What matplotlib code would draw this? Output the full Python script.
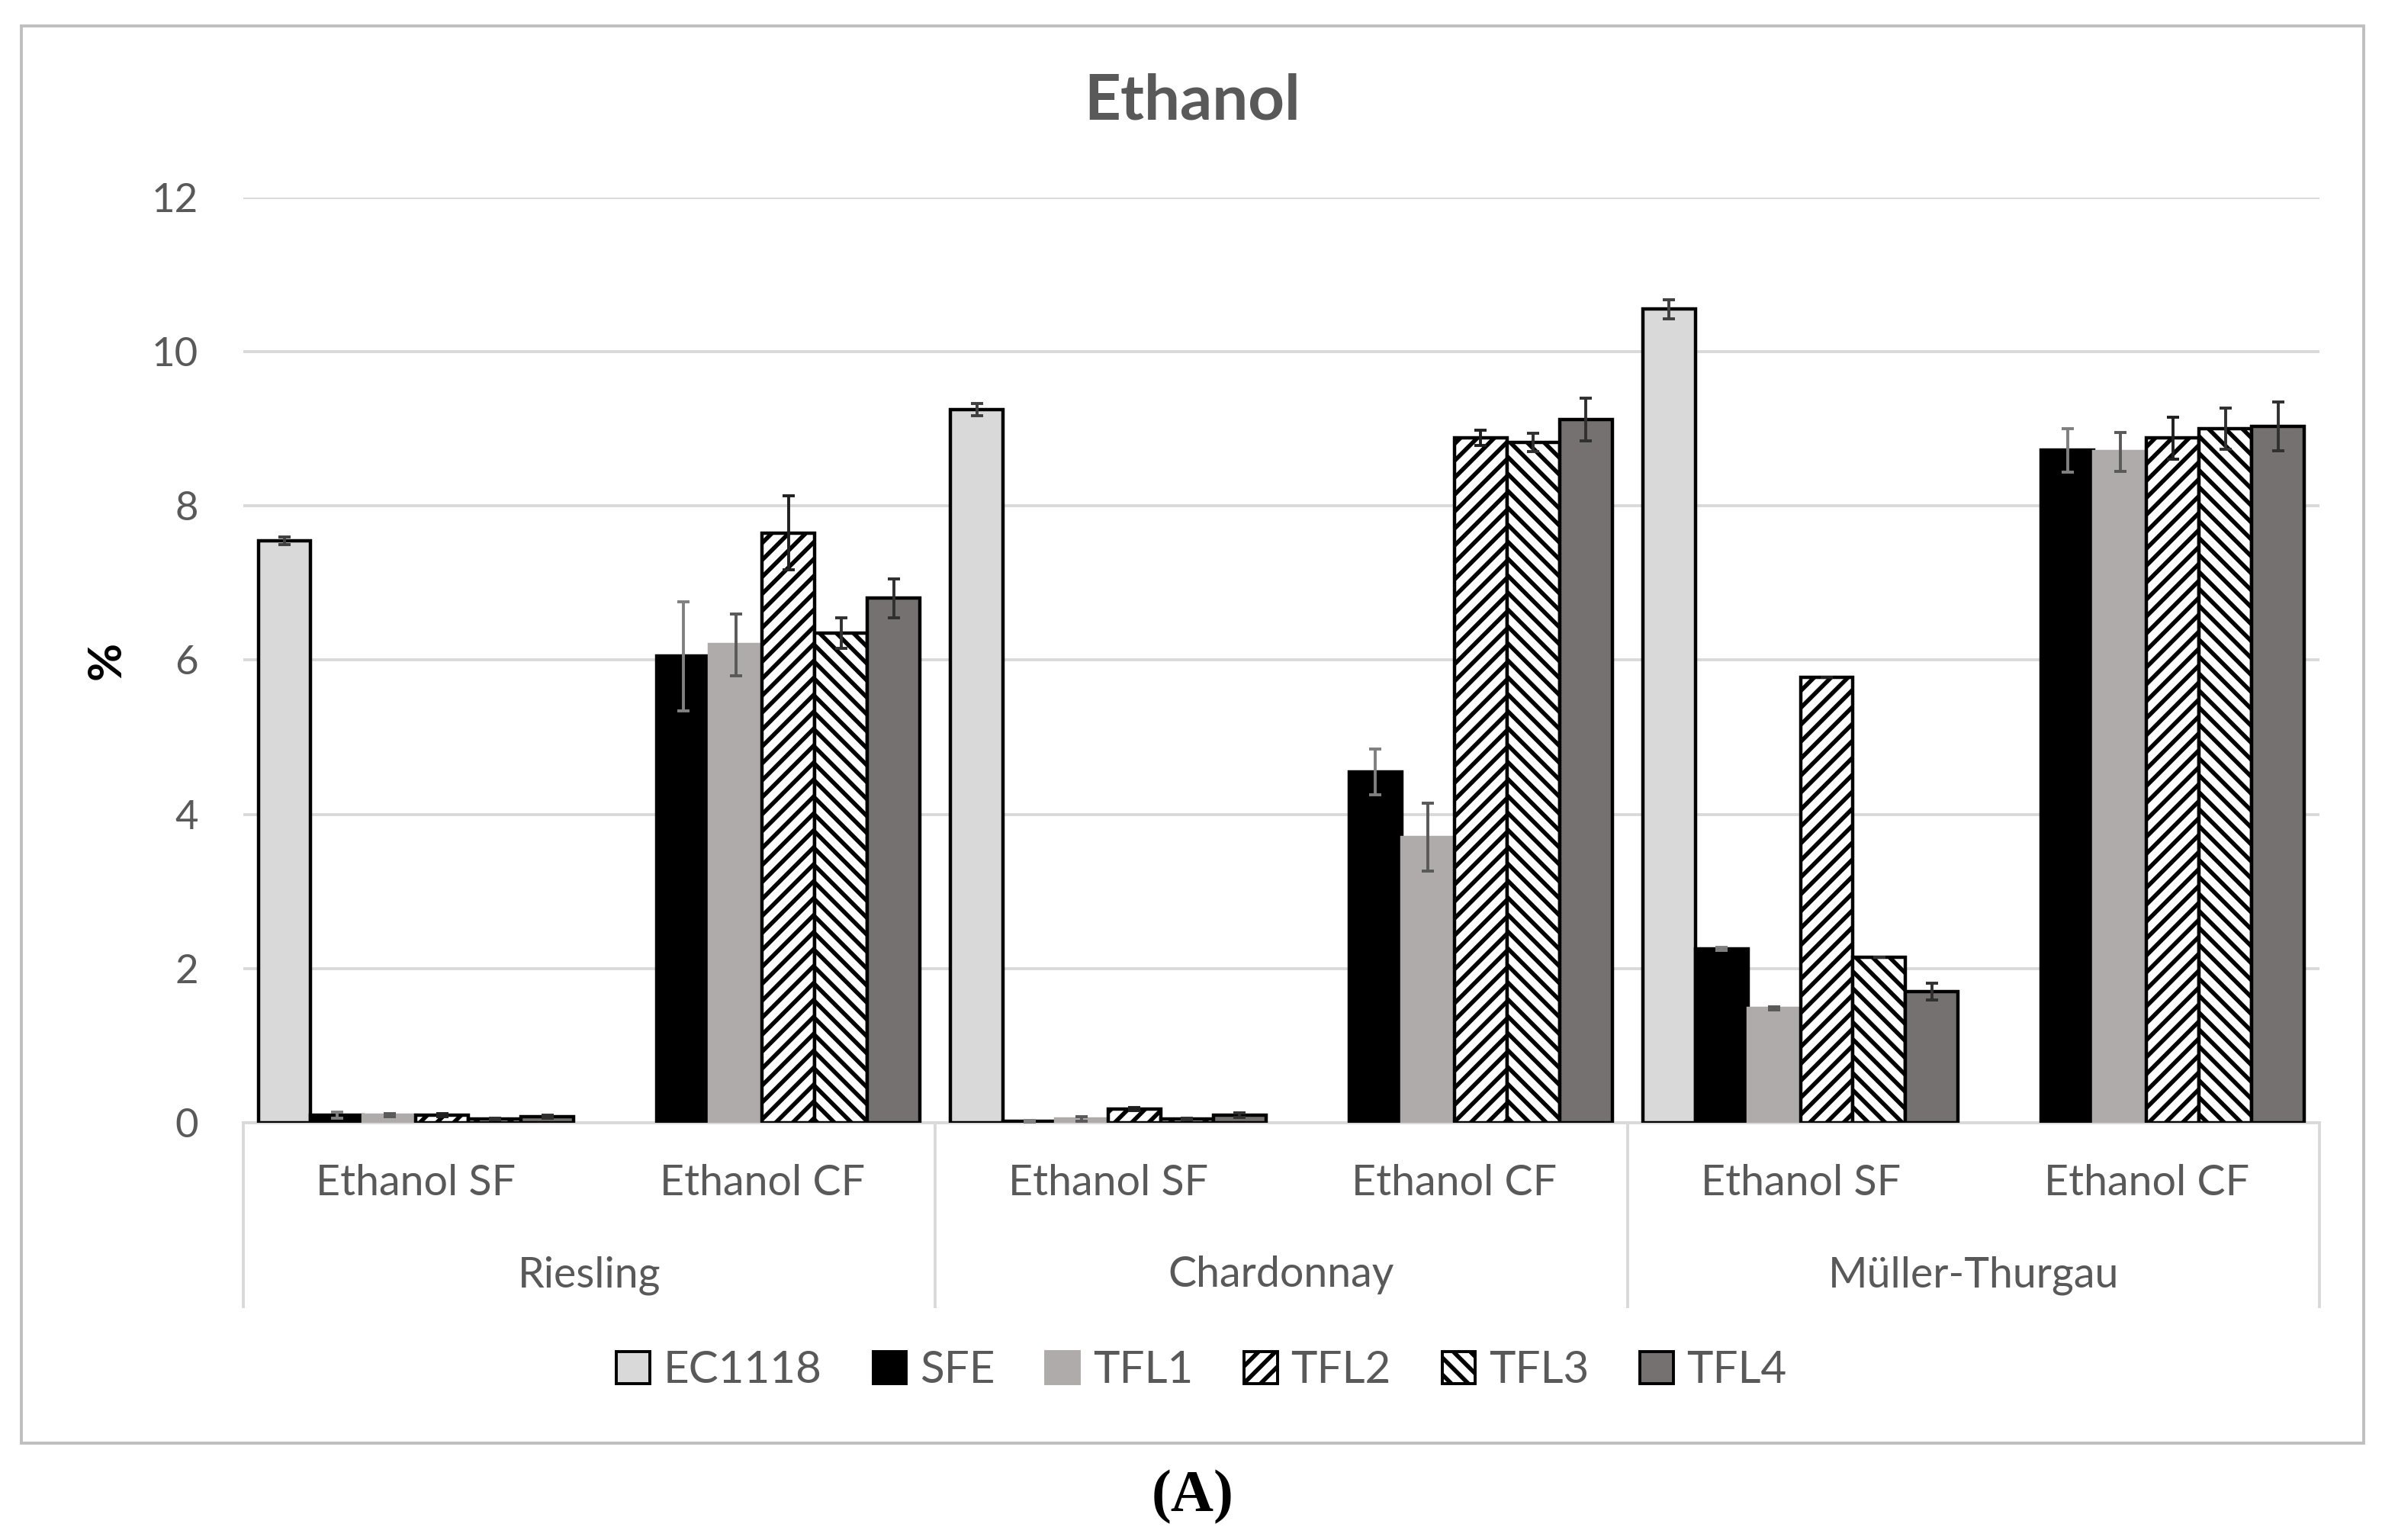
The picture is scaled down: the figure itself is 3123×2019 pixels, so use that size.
import numpy as np
import matplotlib
matplotlib.use("Agg")
import matplotlib.pyplot as plt
from matplotlib.patches import Rectangle, Patch
import matplotlib.transforms as mtransforms

plt.rcParams['font.family'] = ['Lato', 'DejaVu Sans']
plt.rcParams['hatch.linewidth'] = 2.0

# ---------------- data ----------------
varieties = ["Riesling", "Chardonnay", "Müller-Thurgau"]
fermentations = ["Ethanol SF", "Ethanol CF"]
series = ["EC1118", "SFE", "TFL1", "TFL2", "TFL3", "TFL4"]

# values per category: Riesling SF, Riesling CF, Chardonnay SF, Chardonnay CF, MT SF, MT CF
ec1118 = [7.55, np.nan, 9.25, np.nan, 10.55, np.nan]
sfe    = [0.10, 6.05, 0.02, 4.55, 2.25, 8.72]
tfl1   = [0.10, 6.20, 0.05, 3.70, 1.48, 8.70]
tfl2   = [0.10, 7.65, 0.18, 8.88, 5.78, 8.88]
tfl3   = [0.05, 6.35, 0.05, 8.82, 2.15, 9.00]
tfl4   = [0.08, 6.80, 0.10, 9.12, 1.70, 9.03]

ec1118_err = [0.05, np.nan, 0.08, np.nan, 0.12, np.nan]
sfe_err    = [0.04, 0.71, 0.01, 0.30, 0.02, 0.28]
tfl1_err   = [0.02, 0.40, 0.03, 0.44, 0.02, 0.25]
tfl2_err   = [0.02, 0.48, 0.02, 0.10, 0.00, 0.27]
tfl3_err   = [0.01, 0.20, 0.01, 0.12, 0.00, 0.27]
tfl4_err   = [0.02, 0.25, 0.03, 0.28, 0.11, 0.32]

values = [ec1118, sfe, tfl1, tfl2, tfl3, tfl4]
errors = [ec1118_err, sfe_err, tfl1_err, tfl2_err, tfl3_err, tfl4_err]

yticks = [0, 2, 4, 6, 8, 10, 12]

# ---------------- styles ----------------
styles = [
    dict(facecolor="#d9d9d9", edgecolor="black", hatch=None),
    dict(facecolor="black", edgecolor="black", hatch=None),
    dict(facecolor="#afabab", edgecolor="#afabab", hatch=None),
    dict(facecolor="white", edgecolor="black", hatch="///"),
    dict(facecolor="white", edgecolor="black", hatch="\\\\\\"),
    dict(facecolor="#767171", edgecolor="black", hatch=None),
]
err_colors = ["#404040", "#808080", "#595959", "#202020", "#303030", "#303030"]

fig = plt.figure(figsize=(3123 / 200, 2019 / 200), dpi=200)
ax = fig.add_axes([0.1020, 0.2710, 0.8718, 0.6008])

ncat = len(varieties) * len(fermentations)
cat_centers = np.arange(ncat) + 0.5
group_w = 0.912
bw = group_w / len(series)

for i, (vals, errs, st) in enumerate(zip(values, errors, styles)):
    x = cat_centers - group_w / 2 + bw * (i + 0.5)
    ax.bar(x, vals, width=bw, facecolor=st["facecolor"], edgecolor=st["edgecolor"],
           hatch=st["hatch"], linewidth=1.6, zorder=3)
    ax.errorbar(x, vals, yerr=errs, fmt="none", ecolor=err_colors[i],
                elinewidth=1.4, capsize=3, capthick=1.4, zorder=4)

ax.set_xlim(0, ncat)
ax.set_ylim(0, 12)
ax.set_yticks(yticks)
ax.set_yticklabels([str(v) for v in yticks])
ax.tick_params(axis="y", length=0, pad=21, labelsize=19, labelcolor="#595959")
ax.set_xticks([])
ax.grid(axis="y", color="#d9d9d9", linewidth=1.4, zorder=0)
for s in ["top", "right", "left"]:
    ax.spines[s].set_visible(False)
ax.spines["bottom"].set_color("#d9d9d9")
ax.spines["bottom"].set_linewidth(1.4)
ax.spines["bottom"].set_zorder(2)

# category labels
trans = mtransforms.blended_transform_factory(ax.transData, ax.transAxes)
labels_inner = [f for v in varieties for f in fermentations]
for c, lab in zip(cat_centers, labels_inner):
    ax.text(c, -0.066, lab, transform=trans, ha="center", va="center",
            fontsize=20, color="#595959")
for g, v in enumerate(varieties):
    ax.text(2 * g + 1, -0.165, v, transform=trans, ha="center", va="center",
            fontsize=20, color="#595959")
for g in range(len(varieties) + 1):
    ax.plot([2 * g, 2 * g], [0, -0.199], transform=trans, color="#d9d9d9",
            linewidth=1.4, clip_on=False)

# title, y label
fig.text(0.5006, 0.934, "Ethanol", ha="center", va="center", fontsize=30,
         fontweight="bold", color="#595959")
fig.text(0.0446, 0.571, "%", ha="center", va="center", fontsize=22,
         fontweight="bold", rotation=90, color="black")

# legend
handles = [Patch(facecolor=st["facecolor"], edgecolor=st["edgecolor"], hatch=st["hatch"],
                 linewidth=1.4) for st in styles]
leg = fig.legend(handles, series, loc="center", bbox_to_anchor=(0.5045, 0.110),
                 ncol=6, frameon=False, fontsize=21, handlelength=0.75, handleheight=0.75,
                 handletextpad=0.3, columnspacing=1.15)
for t in leg.get_texts():
    t.set_color("#595959")

# outer frame
fig.patches.append(Rectangle((0.0089, 0.063), 0.9834, 0.920, transform=fig.transFigure,
                             fill=False, edgecolor="#bfbfbf", linewidth=1.4))

fig.text(0.5006, 0.028, "(A)", ha="center", va="center", fontsize=28,
         fontweight="bold", family="Liberation Serif", color="black")

fig.savefig("out.png", dpi=200)
